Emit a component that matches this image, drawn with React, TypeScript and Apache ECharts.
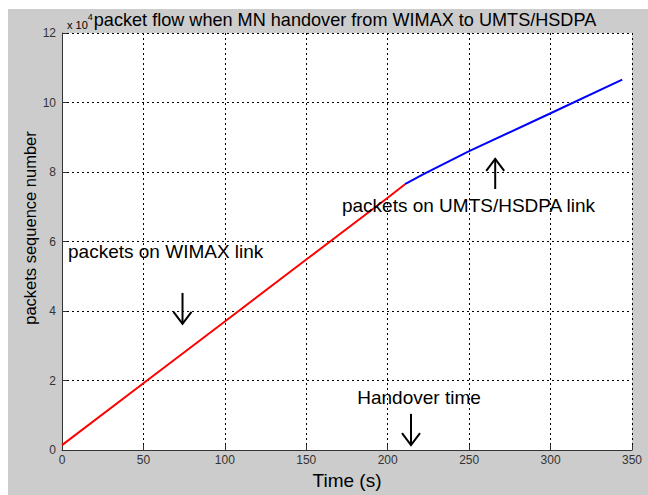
import React, { useEffect, useRef } from "react";
import * as echarts from "echarts";

const xTicks = [0, 50, 100, 150, 200, 250, 300, 350];
const yTickLabels = ["0", "2", "4", "6", "8", "10", "12"];
const wimaxSeries: [number, number][] = [
  [0, 1400],
  [50, 19200],
  [100, 37000],
  [150, 54800],
  [200, 72600],
  [210.6, 76500],
];
const umtsSeries: [number, number][] = [
  [210.6, 76500],
  [222, 79400],
  [250, 86000],
  [300, 96900],
  [344, 106600],
];
const noteTexts = ["packets on WIMAX link", "packets on UMTS/HSDPA link", "Handover time"];
const notePoints: [number, number][] = [
  [3.7, 57200],
  [171.9, 70500],
  [181.3, 15200],
];
// arrows: x, tail y, head y
const arrowData: [number, number, number][] = [
  [74, 45200, 36300],
  [266, 75100, 83800],
  [214.3, 10400, 1400],
];
const yAxisTitle = "packets sequence number";

const FONT = "'Liberation Sans', Arial, sans-serif";

export default function App() {
  const ref = useRef<HTMLDivElement>(null);
  useEffect(() => {
    document.body.style.margin = "0";
    if (!ref.current) return;
    const chart = echarts.init(ref.current, undefined, { renderer: "svg" });
    chart.setOption({
      animation: false,
      backgroundColor: "#cccccc",
      title: {
        left: 54,
        top: -5,
        text: "{a|x 10}{b|4}{c|packet flow when MN handover from WIMAX to UMTS/HSDPA}",
        textStyle: {
          fontWeight: "normal",
          rich: {
            a: { fontSize: 11, fontFamily: FONT, color: "#000", fontWeight: "normal", verticalAlign: "bottom", lineHeight: 22, padding: [0, 0, 1, 0] },
            b: { fontSize: 9, fontFamily: FONT, color: "#000", fontWeight: "normal", verticalAlign: "middle", lineHeight: 22, padding: [0, 1, 6, 0] },
            c: { fontSize: 18.1, fontFamily: FONT, color: "#000", fontWeight: "normal", lineHeight: 22 },
          },
        },
      },
      graphic: [
        {
          type: "text",
          x: 22,
          y: 219,
          rotation: Math.PI / 2,
          style: {
            text: yAxisTitle,
            fontSize: 16.5,
            fontFamily: FONT,
            fill: "#000",
            align: "center",
            verticalAlign: "middle",
          },
        },
      ],
      grid: { left: 54, top: 24, right: 16, bottom: 35, show: true, backgroundColor: "#ffffff", borderWidth: 0 },
      xAxis: {
        type: "value",
        min: xTicks[0],
        max: xTicks[xTicks.length - 1],
        interval: 50,
        name: "Time (s)",
        nameLocation: "middle",
        nameGap: 21,
        nameTextStyle: { fontSize: 19, fontFamily: FONT, color: "#000", verticalAlign: "top" },
        axisLine: { show: true, lineStyle: { color: "#333", width: 1 } },
        axisTick: { show: true, inside: true, length: 5, lineStyle: { color: "#333" } },
        axisLabel: { fontSize: 12, fontFamily: FONT, color: "#333", margin: 4 },
        splitLine: { show: true, lineStyle: { color: "#000", type: [2, 3], width: 1 } },
      },
      yAxis: {
        type: "value",
        min: 0,
        max: 120000,
        interval: 20000,
        axisLine: { show: true, lineStyle: { color: "#333", width: 1 } },
        axisTick: { show: true, inside: true, length: 5, lineStyle: { color: "#333" } },
        axisLabel: {
          fontSize: 12,
          fontFamily: FONT,
          color: "#333",
          margin: 6,
          formatter: (v: number) => yTickLabels[Math.round(v / 20000)] ?? "",
        },
        splitLine: { show: true, lineStyle: { color: "#000", type: [2, 3], width: 1 } },
      },
      series: [
        {
          type: "line",
          data: wimaxSeries,
          showSymbol: false,
          symbol: "none",
          lineStyle: { color: "#ff0000", width: 2 },
          z: 5,
        },
        {
          type: "line",
          data: umtsSeries,
          showSymbol: false,
          symbol: "none",
          lineStyle: { color: "#0000ff", width: 2 },
          z: 5,
        },
        {
          type: "custom",
          data: arrowData,
          encode: { x: 0, y: [1, 2] },
          z: 6,
          renderItem: (params: any, api: any) => {
            const x = api.value(0);
            const p1 = api.coord([x, api.value(1)]);
            const p2 = api.coord([x, api.value(2)]);
            const dir = p2[1] > p1[1] ? 1 : -1;
            return {
              type: "group",
              children: [
                {
                  type: "line",
                  shape: { x1: p1[0], y1: p1[1], x2: p2[0], y2: p2[1] },
                  style: { stroke: "#000", lineWidth: 2 },
                },
                {
                  type: "polyline",
                  shape: {
                    points: [
                      [p2[0] - 9, p2[1] - dir * 12],
                      [p2[0], p2[1]],
                      [p2[0] + 9, p2[1] - dir * 12],
                    ],
                  },
                  style: { stroke: "#000", lineWidth: 2, fill: null },
                },
              ],
            };
          },
        },
        {
          type: "custom",
          data: notePoints,
          encode: { x: 0, y: 1 },
          z: 7,
          renderItem: (params: any, api: any) => {
            const p = api.coord([api.value(0), api.value(1)]);
            return {
              type: "text",
              x: p[0],
              y: p[1],
              style: {
                text: noteTexts[params.dataIndex],
                fontSize: 19,
                fontFamily: FONT,
                fill: "#000",
                align: "left",
                verticalAlign: "middle",
              },
            };
          },
        },
      ],
    });
    return () => chart.dispose();
  }, []);
  return (
    <div style={{ position: "relative", width: 648, height: 495, background: "#fff", overflow: "hidden" }}>
      <div ref={ref} style={{ position: "absolute", left: 8, top: 9, width: 640, height: 486 }} />
    </div>
  );
}
